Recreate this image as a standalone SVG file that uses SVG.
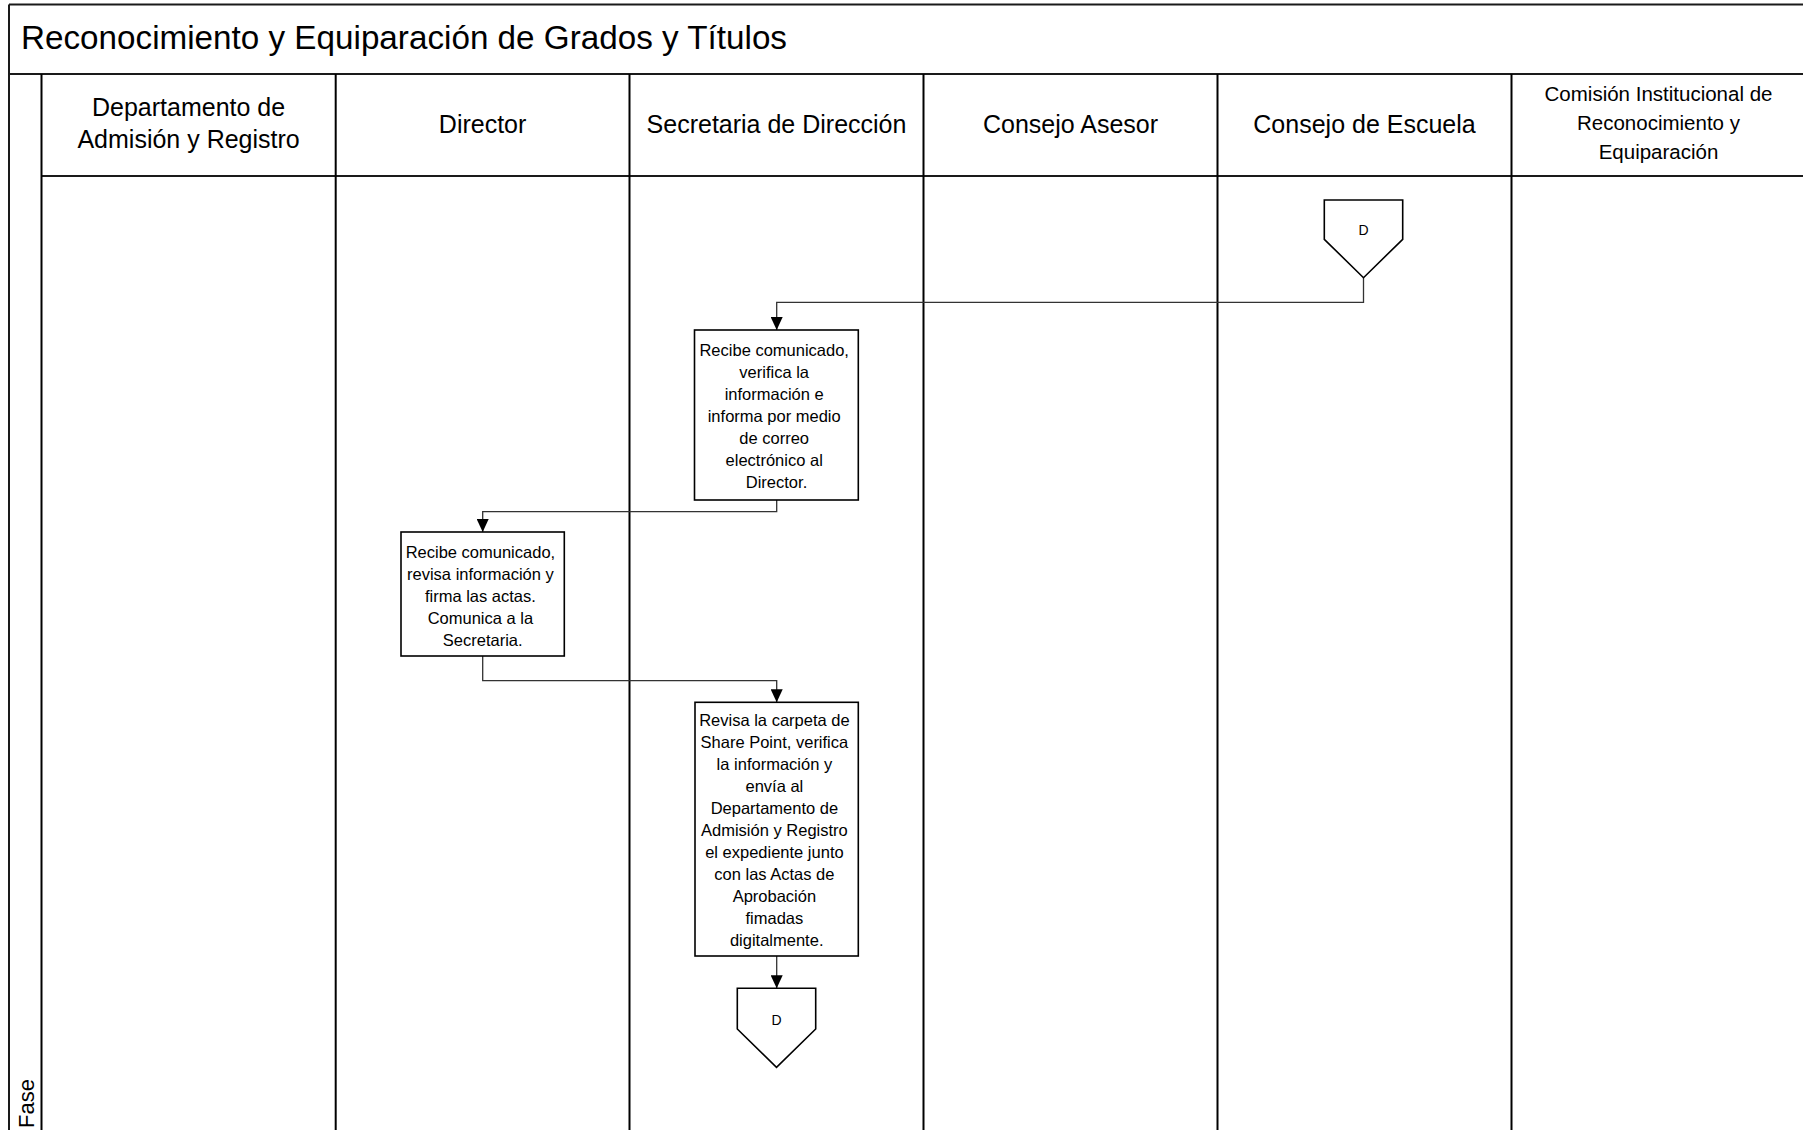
<svg xmlns="http://www.w3.org/2000/svg" width="1803" height="1130" viewBox="0 0 1803 1130">
  <style>
    .frame { stroke: #1a1a1a; stroke-width: 2; fill: none; }
    .lane { stroke: #000; stroke-width: 2; fill: none; }
    .title { font-family: "Liberation Sans", Arial, sans-serif; font-size: 33px; fill: #000; }
    .hdr { font-family: "Liberation Sans", Arial, sans-serif; font-size: 25px; fill: #000; text-anchor: middle; }
    .hdr-sm { font-family: "Liberation Sans", Arial, sans-serif; font-size: 20.5px; fill: #000; text-anchor: middle; }
    .phase { font-family: "Liberation Sans", Arial, sans-serif; font-size: 22px; fill: #000; }
    .box { fill: #fff; stroke: #000; stroke-width: 1.6; }
    .box-text { font-family: "Liberation Sans", Arial, sans-serif; font-size: 16.5px; fill: #000; text-anchor: middle; }
    .conn { fill: none; stroke: #333; stroke-width: 1.3; }
    .ref { fill: #fff; stroke: #000; stroke-width: 1.6; }
    .ref-text { font-family: "Liberation Sans", Arial, sans-serif; font-size: 14px; fill: #000; text-anchor: middle; }
  </style>
  <defs>
    <marker id="arrow" markerUnits="userSpaceOnUse" markerWidth="13" markerHeight="12" refX="13" refY="6" orient="auto">
      <path d="M0,0 L13,6 L0,12 Z" fill="#000"/>
    </marker>
  </defs>

  <rect x="0" y="0" width="1803" height="1130" fill="#fff"/>

  <!-- Pool frame: title row, header row, phase column and lane dividers -->
  <g id="pool">
    <line class="frame" x1="9" y1="4.5" x2="1803" y2="4.5"/>
    <line class="frame" x1="9" y1="4.5" x2="9" y2="1130"/>
    <line class="frame" x1="9" y1="74" x2="1803" y2="74"/>
    <line class="frame" x1="41.5" y1="176" x2="1803" y2="176"/>
    <line class="lane" x1="41.5" y1="74" x2="41.5" y2="1130"/>
    <line class="lane" x1="335.7" y1="74" x2="335.7" y2="1130"/>
    <line class="lane" x1="629.5" y1="74" x2="629.5" y2="1130"/>
    <line class="lane" x1="923.5" y1="74" x2="923.5" y2="1130"/>
    <line class="lane" x1="1217.5" y1="74" x2="1217.5" y2="1130"/>
    <line class="lane" x1="1511.5" y1="74" x2="1511.5" y2="1130"/>
    <text class="title" x="21" y="49" textLength="766" lengthAdjust="spacingAndGlyphs">Reconocimiento y Equiparación de Grados y Títulos</text>
    <text class="phase" transform="translate(34,1128) rotate(-90)">Fase</text>
  </g>

  <!-- Lane headers -->
  <g id="lane-headers">
    <text class="hdr" x="188.6" y="116">Departamento de</text>
    <text class="hdr" x="188.6" y="148">Admisión y Registro</text>
    <text class="hdr" x="482.6" y="133">Director</text>
    <text class="hdr" x="776.5" y="133">Secretaria de Dirección</text>
    <text class="hdr" x="1070.5" y="133">Consejo Asesor</text>
    <text class="hdr" x="1364.5" y="133">Consejo de Escuela</text>
    <text class="hdr-sm" x="1658.5" y="101">Comisión Institucional de</text>
    <text class="hdr-sm" x="1658.5" y="130">Reconocimiento y</text>
    <text class="hdr-sm" x="1658.5" y="159">Equiparación</text>
  </g>

  <!-- Connectors -->
  <g id="connectors">
    <path class="conn" d="M1363.5,277.7 V302.3 H776.7 V330" marker-end="url(#arrow)"/>
    <path class="conn" d="M776.7,500 V511.7 H482.7 V532" marker-end="url(#arrow)"/>
    <path class="conn" d="M482.7,656 V680.7 H776.7 V702.3" marker-end="url(#arrow)"/>
    <path class="conn" d="M776.7,956 V988.3" marker-end="url(#arrow)"/>
  </g>

  <!-- Off-page reference (incoming) -->
  <g id="ref-d-in">
    <path class="ref" d="M1324.3,200 H1402.7 V239.3 L1363.5,277.7 L1324.3,239.3 Z"/>
    <text class="ref-text" x="1363.5" y="234.7">D</text>
  </g>

  <!-- Secretaria: receives the notice -->
  <g id="task-secretaria-recibe">
    <rect class="box" x="694.5" y="330" width="163.8" height="170"/>
    <text class="box-text">
      <tspan x="776.5" y="356">Recibe comunicado,</tspan>
      <tspan x="776.5" y="378">verifica la</tspan>
      <tspan x="776.5" y="400">información e</tspan>
      <tspan x="776.5" y="422">informa por medio</tspan>
      <tspan x="776.5" y="444">de correo</tspan>
      <tspan x="776.5" y="466">electrónico al</tspan>
      <tspan x="776.5" y="488">Director.</tspan>
    </text>
  </g>

  <!-- Director: reviews and signs -->
  <g id="task-director-firma">
    <rect class="box" x="401" y="532" width="163.3" height="124"/>
    <text class="box-text">
      <tspan x="482.7" y="558">Recibe comunicado,</tspan>
      <tspan x="482.7" y="580">revisa información y</tspan>
      <tspan x="482.7" y="602">firma las actas.</tspan>
      <tspan x="482.7" y="624">Comunica a la</tspan>
      <tspan x="482.7" y="646">Secretaria.</tspan>
    </text>
  </g>

  <!-- Secretaria: sends the file to Admisión y Registro -->
  <g id="task-secretaria-envia">
    <rect class="box" x="695" y="702.3" width="163.3" height="253.7"/>
    <text class="box-text">
      <tspan x="776.7" y="726">Revisa la carpeta de</tspan>
      <tspan x="776.7" y="748">Share Point, verifica</tspan>
      <tspan x="776.7" y="770">la información y</tspan>
      <tspan x="776.7" y="792">envía al</tspan>
      <tspan x="776.7" y="814">Departamento de</tspan>
      <tspan x="776.7" y="836">Admisión y Registro</tspan>
      <tspan x="776.7" y="858">el expediente junto</tspan>
      <tspan x="776.7" y="880">con las Actas de</tspan>
      <tspan x="776.7" y="902">Aprobación</tspan>
      <tspan x="776.7" y="924">fimadas</tspan>
      <tspan x="776.7" y="946">digitalmente.</tspan>
    </text>
  </g>

  <!-- Off-page reference (outgoing) -->
  <g id="ref-d-out">
    <path class="ref" d="M737.3,988.3 H815.7 V1029 L776.5,1067.3 L737.3,1029 Z"/>
    <text class="ref-text" x="776.5" y="1025">D</text>
  </g>
</svg>
